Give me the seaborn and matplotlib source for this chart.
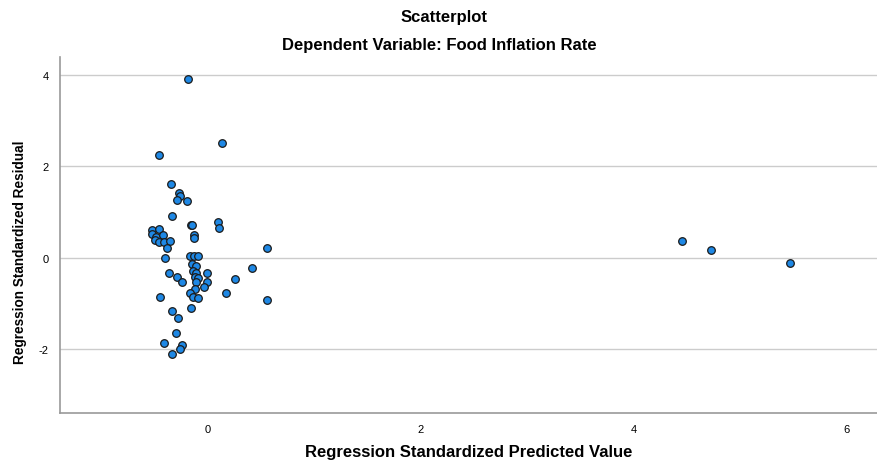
import numpy as np
import pandas as pd
import matplotlib
matplotlib.use("Agg")
import matplotlib.pyplot as plt
import seaborn as sns

# standardized predicted values (x) and standardized residuals (y)
predicted = [-0.19, 0.13, -0.46, -0.35, -0.27, -0.26, -0.29, -0.20,
             -0.34, -0.16, -0.15, 0.09, 0.10, -0.13, -0.13,
             -0.53, -0.46, -0.53, -0.49, -0.42, -0.50, -0.46, -0.41, -0.36, -0.39,
             0.55, -0.40, -0.17, -0.13, -0.09,
             -0.15, -0.11, -0.14, -0.11, -0.01, -0.12, -0.09, -0.11, -0.01,
             -0.04, -0.12, -0.17, -0.14, -0.09,
             -0.37, -0.29, -0.24, 0.25, 0.41, 0.17, 0.55, -0.45,
             -0.16, -0.34, -0.28, -0.30, -0.41, -0.24, -0.26, -0.34,
             4.46, 4.73, 5.47]
residual = [3.90, 2.50, 2.24, 1.62, 1.41, 1.36, 1.27, 1.25,
            0.91, 0.71, 0.71, 0.79, 0.66, 0.49, 0.43,
            0.60, 0.63, 0.52, 0.45, 0.49, 0.40, 0.34, 0.34, 0.36, 0.22,
            0.22, -0.01, 0.04, 0.05, 0.05,
            -0.13, -0.17, -0.28, -0.33, -0.33, -0.42, -0.44, -0.53, -0.52,
            -0.64, -0.68, -0.77, -0.85, -0.88,
            -0.33, -0.43, -0.53, -0.46, -0.22, -0.76, -0.93, -0.86,
            -1.09, -1.16, -1.32, -1.65, -1.86, -1.90, -1.99, -2.10,
            0.36, 0.17, -0.12]

df = pd.DataFrame({"pred": predicted, "resid": residual})

sns.set_style("white")
plt.rcParams["font.family"] = ["Liberation Sans", "DejaVu Sans"]
plt.rcParams["axes.unicode_minus"] = False
plt.rcParams["text.color"] = "black"
plt.rcParams["axes.labelcolor"] = "black"
plt.rcParams["xtick.color"] = "black"
plt.rcParams["ytick.color"] = "black"

fig = plt.figure(figsize=(8.78, 4.64), dpi=100)
ax = fig.add_axes([0.068, 0.108, 0.931, 0.768])

sns.scatterplot(data=df, x="pred", y="resid", ax=ax, s=30, color="#1E88E5",
                edgecolor="#1a1a1a", linewidth=0.9, zorder=3)

ax.set_xlim(-1.394, 6.29)
ax.set_ylim(-3.39, 4.40)
ax.set_xticks([0, 2, 4, 6])
ax.set_yticks([-2, 0, 2, 4])
ax.yaxis.grid(True, color="#cccccc", linewidth=1.0)
ax.xaxis.grid(False)
ax.tick_params(axis="both", length=0, labelsize=8, pad=8)
for side in ["top", "right"]:
    ax.spines[side].set_visible(False)
for side in ["left", "bottom"]:
    ax.spines[side].set_color("#999999")
    ax.spines[side].set_linewidth(1.2)

ax.set_xlabel("Regression Standardized Predicted Value", fontsize=12,
              fontweight="bold", va="center")
ax.set_ylabel("Regression Standardized Residual", fontsize=9.8,
              fontweight="bold", va="center")
ax.xaxis.set_label_coords(0.5, -0.109)
ax.yaxis.set_label_coords(-0.048, 0.453)

fig.text(0.506, 0.963, "Scatterplot", ha="center", va="center",
         fontsize=12, fontweight="bold")
fig.text(0.5, 0.903, "Dependent Variable: Food Inflation Rate", ha="center",
         va="center", fontsize=12, fontweight="bold")

fig.savefig("out.png", dpi=100)
